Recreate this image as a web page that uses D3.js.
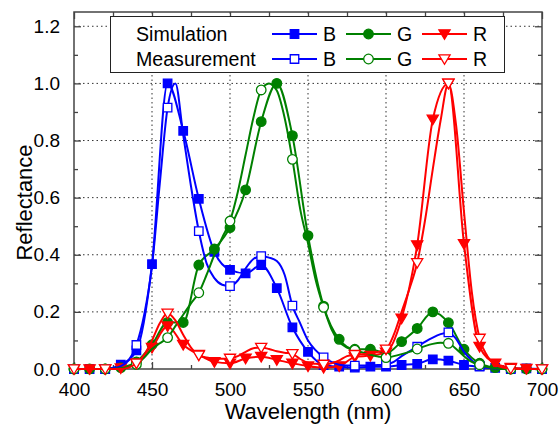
<!DOCTYPE html>
<html>
<head>
<meta charset="utf-8">
<script src="https://cdn.jsdelivr.net/npm/d3@7"></script>
<style>
  html, body { margin: 0; padding: 0; background: #fff; }
  svg { display: block; font-family: "Liberation Sans", Arial, sans-serif; }
</style>
</head>
<body>
<svg id="chart" width="559" height="424"></svg>
<script>
// Wavelength sampling (nm)
const simWavelengths = [400,410,420,430,440,450,460,470,480,490,500,510,520,530,540,550,
  560,570,580,590,600,610,620,630,640,650,660,670,680,690,700];
const measWavelengths = [400,405,410,415,420,425,430,435,440,445,450,455,460,465,470,475,
  480,485,490,495,500,505,510,515,520,525,530,535,540,545,550,555,560,565,570,575,
  580,585,590,595,600,605,610,615,620,625,630,635,640,645,650,655,660,665,670,675,
  680,685,690,695,700];

// Simulated reflectance (10 nm steps)
const simB = [0,0,0,0.015,0.065,0.367,1.0,0.834,0.596,0.41,0.347,0.335,0.364,0.283,0.146,0.06,
  0.014,0.008,0.005,0.008,0.008,0.014,0.018,0.034,0.029,0.014,0.008,0.004,0.002,0.002,0];
const simG = [0,0,0,0.005,0.025,0.085,0.163,0.163,0.364,0.42,0.495,0.627,0.866,1.0,0.817,0.467,
  0.22,0.104,0.069,0.069,0.055,0.096,0.142,0.2,0.162,0.069,0.02,0.005,0,0,0];
const simR = [0,0,0,0.003,0.02,0.075,0.15,0.085,0.05,0.025,0.02,0.037,0.043,0.032,0.02,0.01,
  0.005,0.01,0.042,0.047,0.058,0.177,0.434,0.874,1.0,0.438,0.078,0.02,0.005,0.001,0];

// Measured reflectance (5 nm steps, markers every 20 nm)
const measB = [0,0,0,0,0,0.003,0.01,0.03,0.084,0.19,0.36,0.65,0.915,1.0,0.82,0.64,
  0.483,0.37,0.318,0.295,0.29,0.31,0.352,0.385,0.395,0.39,0.378,0.33,0.222,0.16,0.1,0.065,
  0.041,0.025,0.015,0.012,0.012,0.012,0.013,0.014,0.016,0.025,0.045,0.062,0.078,0.095,
  0.11,0.122,0.128,0.105,0.06,0.03,0.01,0.004,0.002,0,0,0,0,0,0];
const measG = [0,0,0,0,0,0,0.003,0.008,0.016,0.04,0.07,0.09,0.11,0.15,0.19,0.23,
  0.267,0.33,0.4,0.46,0.518,0.62,0.75,0.88,0.977,1.0,0.975,0.88,0.734,0.56,0.44,0.31,
  0.216,0.14,0.095,0.075,0.066,0.058,0.05,0.044,0.04,0.045,0.052,0.06,0.07,0.08,
  0.088,0.092,0.09,0.07,0.045,0.025,0.015,0.007,0.003,0,0,0,0,0,0];
const measR = [0,0,0,0,0,0,0,0.005,0.02,0.05,0.1,0.16,0.195,0.17,0.12,0.075,
  0.048,0.04,0.037,0.036,0.037,0.045,0.06,0.073,0.075,0.07,0.062,0.057,0.053,0.035,0.022,0.018,
  0.016,0.02,0.03,0.045,0.05,0.052,0.055,0.06,0.069,0.12,0.2,0.28,0.372,0.52,
  0.7,0.87,1.0,0.85,0.55,0.27,0.107,0.045,0.015,0.005,0.002,0,0,0,0];

const xTicks = [400,450,500,550,600,650,700];
const yTicks = [0.0,0.2,0.4,0.6,0.8,1.0,1.2];

const colors = { B: "#0000ff", G: "#008000", R: "#ff0000" };

const svg = d3.select("#chart");
const plotLeft = 74, plotRight = 542, plotTop = 12, plotBottom = 369;

const x = d3.scaleLinear().domain([400, 700]).range([plotLeft, plotRight]);
const y = d3.scaleLinear().domain([0, 1.25]).range([plotBottom, plotTop]);

// Dotted grid
const grid = svg.append("g");
grid.selectAll("line.gx").data(xTicks.slice(1, -1)).join("line")
  .attr("x1", d => x(d)).attr("x2", d => x(d))
  .attr("y1", plotTop).attr("y2", plotBottom)
  .attr("stroke", "#333").attr("stroke-width", 1).attr("stroke-dasharray", "1.5,3");
grid.selectAll("line.gy").data(yTicks.slice(1)).join("line")
  .attr("x1", plotLeft).attr("x2", plotRight)
  .attr("y1", d => y(d)).attr("y2", d => y(d))
  .attr("stroke", "#333").attr("stroke-width", 1).attr("stroke-dasharray", "1.5,3");

// Axes with inward ticks (major + minor), mirrored on top/right
const axisColor = "#444";
function styleAxis(g) {
  g.select(".domain").remove();
  g.selectAll(".tick line").attr("stroke", axisColor).attr("stroke-width", 1.3);
}
const xMinor = [425,475,525,575,625,675];
const yMinor = [0.1,0.3,0.5,0.7,0.9,1.1];

const gxB = svg.append("g").attr("transform", `translate(0,${plotBottom})`)
  .call(d3.axisBottom(x).tickValues(xTicks).tickSize(-7).tickPadding(14).tickFormat(d3.format("d")));
styleAxis(gxB);
gxB.selectAll("text").attr("font-size", 19).attr("fill", "#000")
  .attr("font-family", "Liberation Sans, Arial, sans-serif");
svg.append("g").attr("transform", `translate(0,${plotBottom})`)
  .call(d3.axisBottom(x).tickValues(xMinor).tickSize(-4).tickFormat(""))
  .call(styleAxis);
svg.append("g").attr("transform", `translate(0,${plotTop})`)
  .call(d3.axisTop(x).tickValues(xTicks).tickSize(-7).tickFormat(""))
  .call(styleAxis);
svg.append("g").attr("transform", `translate(0,${plotTop})`)
  .call(d3.axisTop(x).tickValues(xMinor).tickSize(-4).tickFormat(""))
  .call(styleAxis);

const gyL = svg.append("g").attr("transform", `translate(${plotLeft},0)`)
  .call(d3.axisLeft(y).tickValues(yTicks).tickSize(-7).tickPadding(14).tickFormat(d3.format(".1f")));
styleAxis(gyL);
gyL.selectAll("text").attr("font-size", 19).attr("fill", "#000")
  .attr("font-family", "Liberation Sans, Arial, sans-serif");
svg.append("g").attr("transform", `translate(${plotLeft},0)`)
  .call(d3.axisLeft(y).tickValues(yMinor).tickSize(-4).tickFormat(""))
  .call(styleAxis);
svg.append("g").attr("transform", `translate(${plotRight},0)`)
  .call(d3.axisRight(y).tickValues(yTicks).tickSize(-7).tickFormat(""))
  .call(styleAxis);
svg.append("g").attr("transform", `translate(${plotRight},0)`)
  .call(d3.axisRight(y).tickValues(yMinor).tickSize(-4).tickFormat(""))
  .call(styleAxis);

// Frame
svg.append("rect").attr("x", plotLeft).attr("y", plotTop)
  .attr("width", plotRight - plotLeft).attr("height", plotBottom - plotTop)
  .attr("fill", "none").attr("stroke", axisColor).attr("stroke-width", 1.5);

// Axis titles
svg.append("text").attr("x", (plotLeft + plotRight) / 2).attr("y", 419)
  .attr("text-anchor", "middle").attr("font-size", 22).text("Wavelength (nm)");
svg.append("text").attr("transform", `translate(32,${(plotTop + plotBottom) / 2 + 12}) rotate(-90)`)
  .attr("text-anchor", "middle").attr("font-size", 22).text("Reflectance");

// Marker shapes
const symSquare = d3.symbol().type(d3.symbolSquare).size(72);
const symCircle = d3.symbol().type(d3.symbolCircle).size(72);
const triPath = (s) => `M${-s},${-s * 0.75}L${s},${-s * 0.75}L0,${s * 0.95}Z`;

function markerPath(kind) {
  if (kind === "B") return symSquare();
  if (kind === "G") return symCircle();
  return triPath(5.6);
}

const line = d3.line().x(d => x(d[0])).y(d => y(d[1])).curve(d3.curveMonotoneX);

const series = [
  { key: "B", wl: simWavelengths, v: simB, filled: true },
  { key: "G", wl: simWavelengths, v: simG, filled: true },
  { key: "R", wl: simWavelengths, v: simR, filled: true },
  { key: "B", wl: measWavelengths, v: measB, filled: false },
  { key: "G", wl: measWavelengths, v: measG, filled: false },
  { key: "R", wl: measWavelengths, v: measR, filled: false }
];

const plot = svg.append("g");
series.forEach(s => {
  const pts = s.wl.map((w, i) => [w, s.v[i]]);
  plot.append("path").datum(pts).attr("d", line)
    .attr("fill", "none").attr("stroke", colors[s.key]).attr("stroke-width", 2)
    .attr("stroke-linejoin", "round");
  const marks = s.filled ? pts : pts.filter(p => (p[0] - 400) % 20 === 0);
  plot.selectAll(null).data(marks).join("path")
    .attr("transform", d => `translate(${x(d[0])},${y(d[1])})`)
    .attr("d", markerPath(s.key))
    .attr("fill", s.filled ? colors[s.key] : "#fff")
    .attr("stroke", colors[s.key]).attr("stroke-width", 1.3);
});

// Legend
const lg = svg.append("g");
lg.append("rect").attr("x", 110.5).attr("y", 16.5).attr("width", 394).attr("height", 56)
  .attr("fill", "#fff").attr("stroke", "#222").attr("stroke-width", 1);
const rows = [
  { label: "Simulation", filled: true, cy: 34 },
  { label: "Measurement", filled: false, cy: 59 }
];
const legendCols = [
  { key: "B", x0: 272, label: "B" },
  { key: "G", x0: 346, label: "G" },
  { key: "R", x0: 422, label: "R" }
];
rows.forEach(r => {
  lg.append("text").attr("x", 136).attr("y", r.cy + 7).attr("font-size", 19.6).text(r.label);
  legendCols.forEach(c => {
    lg.append("line").attr("x1", c.x0).attr("x2", c.x0 + 45)
      .attr("y1", r.cy).attr("y2", r.cy)
      .attr("stroke", colors[c.key]).attr("stroke-width", 2);
    lg.append("path").attr("transform", `translate(${c.x0 + 22.5},${r.cy})`)
      .attr("d", markerPath(c.key))
      .attr("fill", r.filled ? colors[c.key] : "#fff")
      .attr("stroke", colors[c.key]).attr("stroke-width", 1.3);
    lg.append("text").attr("x", c.x0 + 51).attr("y", r.cy + 7)
      .attr("font-size", 19.6).text(c.label);
  });
});
</script>
</body>
</html>
